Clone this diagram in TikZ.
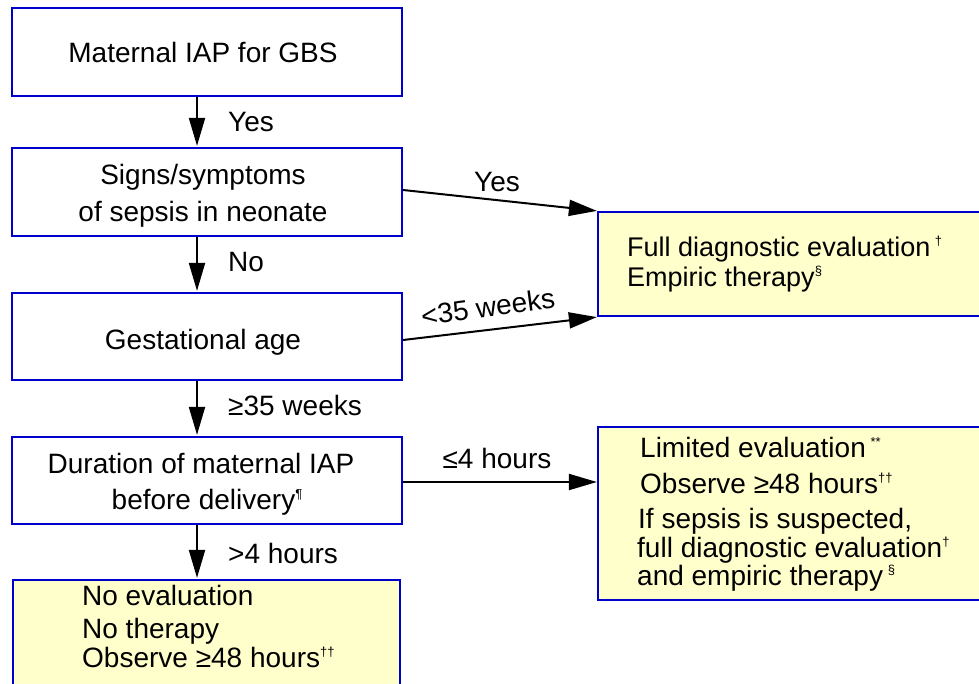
\documentclass[tikz,border=0pt]{standalone}
\usepackage{fontspec}
\setmainfont{Liberation Sans}
\usetikzlibrary{arrows.meta,calc}
\definecolor{boxblue}{RGB}{0,0,205}
\definecolor{boxyellow}{RGB}{255,255,204}
\newcommand{\supmark}[1]{\raisebox{11pt}{\fontsize{13}{13}\selectfont #1}}
\begin{document}
\begin{tikzpicture}[x=1pt,y=-1pt,
  box/.style={draw=boxblue, line width=2.2pt, fill=white, rectangle, inner sep=0pt},
  ybox/.style={box, fill=boxyellow},
  txt/.style={inner sep=0pt, font=\fontsize{28}{34}\selectfont, text=black},
  arr/.style={line width=2pt, draw=black, -{Triangle[length=28pt,width=16pt]}}]
\fill[white] (0,0) rectangle (979,684);
\useasboundingbox (0,0) rectangle (979,684);

% boxes
\node[box, minimum width=390pt, minimum height=88pt] (b1) at (207,52) {};
\node[box, minimum width=390pt, minimum height=88pt] (b2) at (207,192) {};
\node[box, minimum width=390pt, minimum height=87pt] (b3) at (207,336.5) {};
\node[box, minimum width=390pt, minimum height=87pt] (b4) at (207,480.5) {};
\node[ybox, minimum width=387pt, minimum height=130pt] (b5) at (206.5,645) {};
\node[ybox, minimum width=394pt, minimum height=104pt] (r1) at (795,264) {};
\node[ybox, minimum width=394pt, minimum height=173pt] (r2) at (795,513.5) {};

% box texts
\node[txt, anchor=base] (t1) at (203,63) {Maternal IAP for GBS};
\node[txt, anchor=base] (t2a) at (203,185) {Signs/symptoms};
\node[txt, anchor=base] (t2b) at (203,222) {of sepsis in neonate};
\node[txt, anchor=base] (t3) at (203,349) {Gestational age};
\node[txt, anchor=base] (t4a) at (201,473) {Duration of maternal IAP};
\node[txt, anchor=base] (t4b) at (207,509) {before delivery\supmark{¶}};
\node[txt, anchor=base west] (t5a) at (82,605) {No evaluation};
\node[txt, anchor=base west] (t5b) at (82,638) {No therapy};
\node[txt, anchor=base west] (t5c) at (82,667) {Observe ≥48 hours\supmark{††}};
\node[txt, font=\fontsize{27}{32}\selectfont, anchor=base west] (r1a) at (627,257) {Full diagnostic evaluation\,\supmark{†}};
\node[txt, font=\fontsize{27}{32}\selectfont, anchor=base west] (r1b) at (627,287) {Empiric therapy\supmark{§}};
\node[txt, anchor=base west] (r2a) at (640,457) {Limited evaluation\,\supmark{**}};
\node[txt, anchor=base west] (r2b) at (640,493) {Observe ≥48 hours\supmark{††}};
\node[txt, anchor=base west] (r2c) at (638,528) {If sepsis is suspected,};
\node[txt, anchor=base west] (r2d) at (637,557) {full diagnostic evaluation\supmark{†}};
\node[txt, anchor=base west] (r2e) at (637,585) {and empiric therapy\,\supmark{§}};

% vertical connectors
\coordinate (ax) at (197,0);
\draw[arr, shorten >=1pt] (b1.south -| ax) -- (b2.north -| ax);
\draw[arr, shorten >=1pt] (b2.south -| ax) -- (b3.north -| ax);
\draw[arr, shorten >=1pt] (b3.south -| ax) -- (b4.north -| ax);
\draw[arr, shorten >=1pt] (b4.south -| ax) -- (b5.north -| ax);

\node[txt, anchor=base west] (l1) at (228,132) {Yes};
\node[txt, anchor=base west] (l2) at (228,272) {No};
\node[txt, anchor=base west] (l3) at (228,415) {≥35 weeks};
\node[txt, anchor=base west] (l4) at (228,563) {>4 hours};

% horizontal connectors
\coordinate (s2) at ($(b2.east)+(0,-2)$);
\coordinate (s3) at ($(b3.east)+(0,3.5)$);
\coordinate (s4) at ($(b4.east)+(0,1.5)$);
\draw[arr] (s2) -- (r1.north west);
\draw[arr] (s3) -- (r1.south west);
\draw[arr] (s4) -- (s4 -| r2.west);

\node[txt, anchor=base] (l5) at (497,192) {Yes};
\node[txt, rotate=7.8] (l6) at (488,307) {<35 weeks};
\node[txt, anchor=base] (l7) at (497,468) {≤4 hours};
\end{tikzpicture}
\end{document}
